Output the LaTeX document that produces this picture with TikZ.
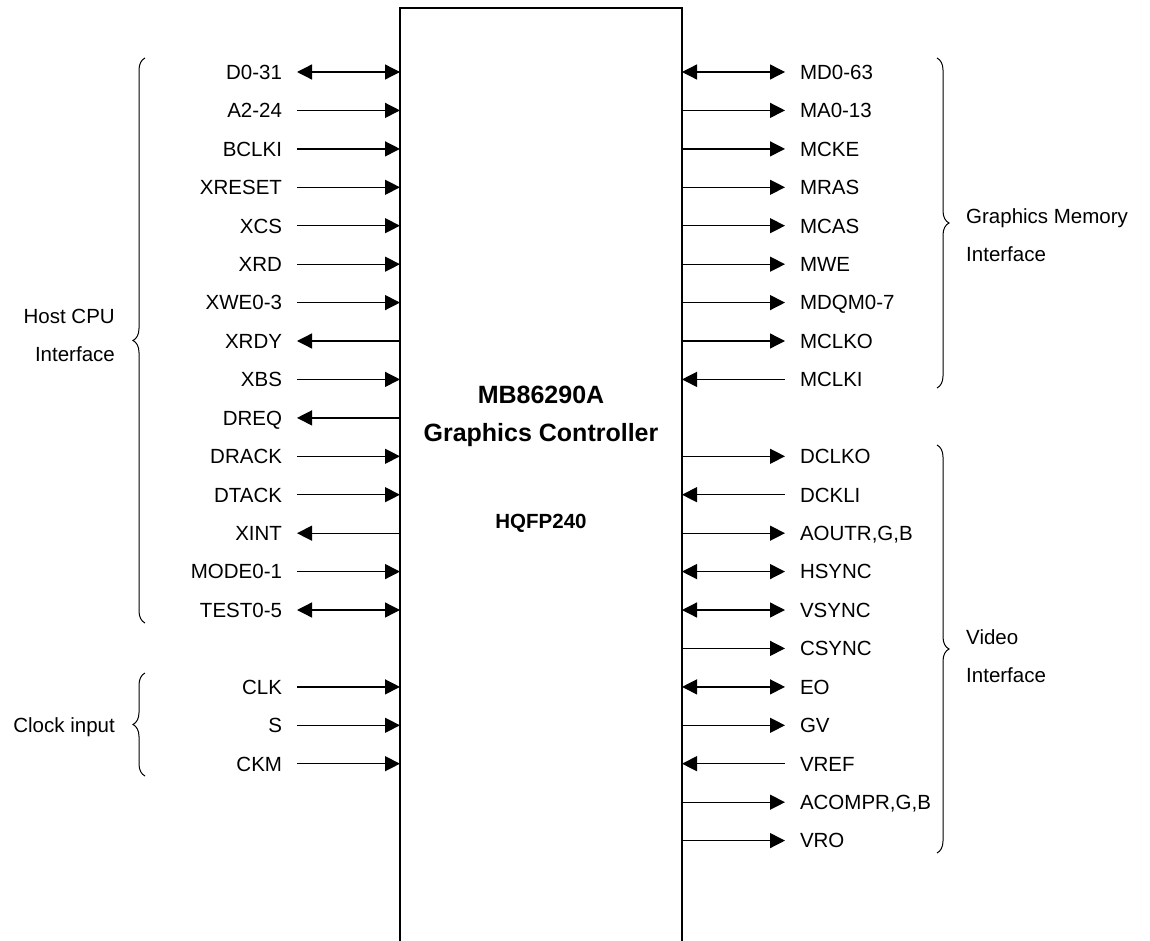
\documentclass[tikz,border=0pt]{standalone}
\usepackage{fontspec}
\setmainfont{Liberation Sans}
\usetikzlibrary{arrows.meta,decorations.pathreplacing}

\begin{document}
\begin{tikzpicture}[x=1pt, y=-1pt, >={Triangle[length=15pt,width=15pt]},
		chip/.style={draw, line width=1.6pt, minimum width=282pt, minimum height=1000pt, inner sep=0pt, outer sep=0pt},
		sig/.style={font=\fontsize{20.5}{24}\selectfont, inner sep=0pt, outer xsep=15pt, outer ysep=0pt, text height=14.7pt, text depth=0pt},
		grp/.style={font=\fontsize{20.5}{38}\selectfont, inner sep=0pt},
		title/.style={font=\bfseries\fontsize{25}{30}\selectfont, inner sep=0pt, text height=18pt, text depth=0pt},
		wire/.style={line width=1.3pt},
		brace/.style={decorate, decoration={brace, amplitude=12pt}, line width=1pt}]
		\useasboundingbox (0,0) rectangle (1150,941);
		\clip (0,0) rectangle (1150,941);

		\node[chip] (chip) at (541,508) {};
		\node[title] (name) at (541,394) {MB86290A};
		\node[title] (ctrl) at (541,432) {Graphics Controller};
		\node[title, font=\bfseries\fontsize{20.5}{24}\selectfont, text height=14.7pt] (pkg) at (541,521) {HQFP240};

		% host side
		\node[sig, anchor=east] (d031) at (297,72) {D0-31};
		\node[sig, anchor=east] (a224) at (297,110.4) {A2-24};
		\node[sig, anchor=east] (bclki) at (297,148.9) {BCLKI};
		\node[sig, anchor=east] (xreset) at (297,187.3) {XRESET};
		\node[sig, anchor=east] (xcs) at (297,225.7) {XCS};
		\node[sig, anchor=east] (xrd) at (297,264.2) {XRD};
		\node[sig, anchor=east] (xwe) at (297,302.6) {XWE0-3};
		\node[sig, anchor=east] (xrdy) at (297,341) {XRDY};
		\node[sig, anchor=east] (xbs) at (297,379.4) {XBS};
		\node[sig, anchor=east] (dreq) at (297,417.9) {DREQ};
		\node[sig, anchor=east] (drack) at (297,456.3) {DRACK};
		\node[sig, anchor=east] (dtack) at (297,494.7) {DTACK};
		\node[sig, anchor=east] (xint) at (297,533.2) {XINT};
		\node[sig, anchor=east] (mode) at (297,571.6) {MODE0-1};
		\node[sig, anchor=east] (test) at (297,610) {TEST0-5};
		\node[sig, anchor=east] (clk) at (297,686.9) {CLK};
		\node[sig, anchor=east] (s) at (297,725.3) {S};
		\node[sig, anchor=east] (ckm) at (297,763.7) {CKM};

		\draw[wire, <->] (d031.east) to (chip.west |- d031);
		\draw[wire, ->] (a224.east) to (chip.west |- a224);
		\draw[wire, ->] (bclki.east) to (chip.west |- bclki);
		\draw[wire, ->] (xreset.east) to (chip.west |- xreset);
		\draw[wire, ->] (xcs.east) to (chip.west |- xcs);
		\draw[wire, ->] (xrd.east) to (chip.west |- xrd);
		\draw[wire, ->] (xwe.east) to (chip.west |- xwe);
		\draw[wire, <-] (xrdy.east) to (chip.west |- xrdy);
		\draw[wire, ->] (xbs.east) to (chip.west |- xbs);
		\draw[wire, <-] (dreq.east) to (chip.west |- dreq);
		\draw[wire, ->] (drack.east) to (chip.west |- drack);
		\draw[wire, ->] (dtack.east) to (chip.west |- dtack);
		\draw[wire, <-] (xint.east) to (chip.west |- xint);
		\draw[wire, ->] (mode.east) to (chip.west |- mode);
		\draw[wire, <->] (test.east) to (chip.west |- test);
		\draw[wire, ->] (clk.east) to (chip.west |- clk);
		\draw[wire, ->] (s.east) to (chip.west |- s);
		\draw[wire, ->] (ckm.east) to (chip.west |- ckm);

		% memory and video side
		\node[sig, anchor=west] (md063) at (785,72) {MD0-63};
		\node[sig, anchor=west] (ma013) at (785,110.4) {MA0-13};
		\node[sig, anchor=west] (mcke) at (785,148.9) {MCKE};
		\node[sig, anchor=west] (mras) at (785,187.3) {MRAS};
		\node[sig, anchor=west] (mcas) at (785,225.7) {MCAS};
		\node[sig, anchor=west] (mwe) at (785,264.2) {MWE};
		\node[sig, anchor=west] (mdqm) at (785,302.6) {MDQM0-7};
		\node[sig, anchor=west] (mclko) at (785,341) {MCLKO};
		\node[sig, anchor=west] (mclki) at (785,379.4) {MCLKI};
		\node[sig, anchor=west] (dclko) at (785,456.3) {DCLKO};
		\node[sig, anchor=west] (dckli) at (785,494.7) {DCKLI};
		\node[sig, anchor=west] (aout) at (785,533.2) {AOUTR,G,B};
		\node[sig, anchor=west] (hsync) at (785,571.6) {HSYNC};
		\node[sig, anchor=west] (vsync) at (785,610) {VSYNC};
		\node[sig, anchor=west] (csync) at (785,648.4) {CSYNC};
		\node[sig, anchor=west] (eo) at (785,686.9) {EO};
		\node[sig, anchor=west] (gv) at (785,725.3) {GV};
		\node[sig, anchor=west] (vref) at (785,763.7) {VREF};
		\node[sig, anchor=west] (acomp) at (785,802.2) {ACOMPR,G,B};
		\node[sig, anchor=west] (vro) at (785,840.6) {VRO};

		\draw[wire, <->] (chip.east |- md063) to (md063.west);
		\draw[wire, ->] (chip.east |- ma013) to (ma013.west);
		\draw[wire, ->] (chip.east |- mcke) to (mcke.west);
		\draw[wire, ->] (chip.east |- mras) to (mras.west);
		\draw[wire, ->] (chip.east |- mcas) to (mcas.west);
		\draw[wire, ->] (chip.east |- mwe) to (mwe.west);
		\draw[wire, ->] (chip.east |- mdqm) to (mdqm.west);
		\draw[wire, ->] (chip.east |- mclko) to (mclko.west);
		\draw[wire, <-] (chip.east |- mclki) to (mclki.west);
		\draw[wire, ->] (chip.east |- dclko) to (dclko.west);
		\draw[wire, <-] (chip.east |- dckli) to (dckli.west);
		\draw[wire, ->] (chip.east |- aout) to (aout.west);
		\draw[wire, <->] (chip.east |- hsync) to (hsync.west);
		\draw[wire, <->] (chip.east |- vsync) to (vsync.west);
		\draw[wire, ->] (chip.east |- csync) to (csync.west);
		\draw[wire, <->] (chip.east |- eo) to (eo.west);
		\draw[wire, ->] (chip.east |- gv) to (gv.west);
		\draw[wire, <-] (chip.east |- vref) to (vref.west);
		\draw[wire, ->] (chip.east |- acomp) to (acomp.west);
		\draw[wire, ->] (chip.east |- vro) to (vro.west);

		% groups
		\draw[brace] (145,623) to (145,58);
		\draw[brace] (145,776) to (145,673);
		\draw[brace] (937,58) to (937,388);
		\draw[brace] (937,445) to (937,853);
		\node[grp, anchor=east, align=right] (host) at (115,335.5) {Host CPU\\Interface};
		\node[grp, anchor=east, text height=14.7pt, text depth=0pt] (clock) at (115,725.3) {Clock input};
		\node[grp, anchor=west, align=left] (gmem) at (966,235.5) {Graphics Memory\\Interface};
		\node[grp, anchor=west, align=left] (video) at (966,656) {Video\\Interface};
\end{tikzpicture}
\end{document}
